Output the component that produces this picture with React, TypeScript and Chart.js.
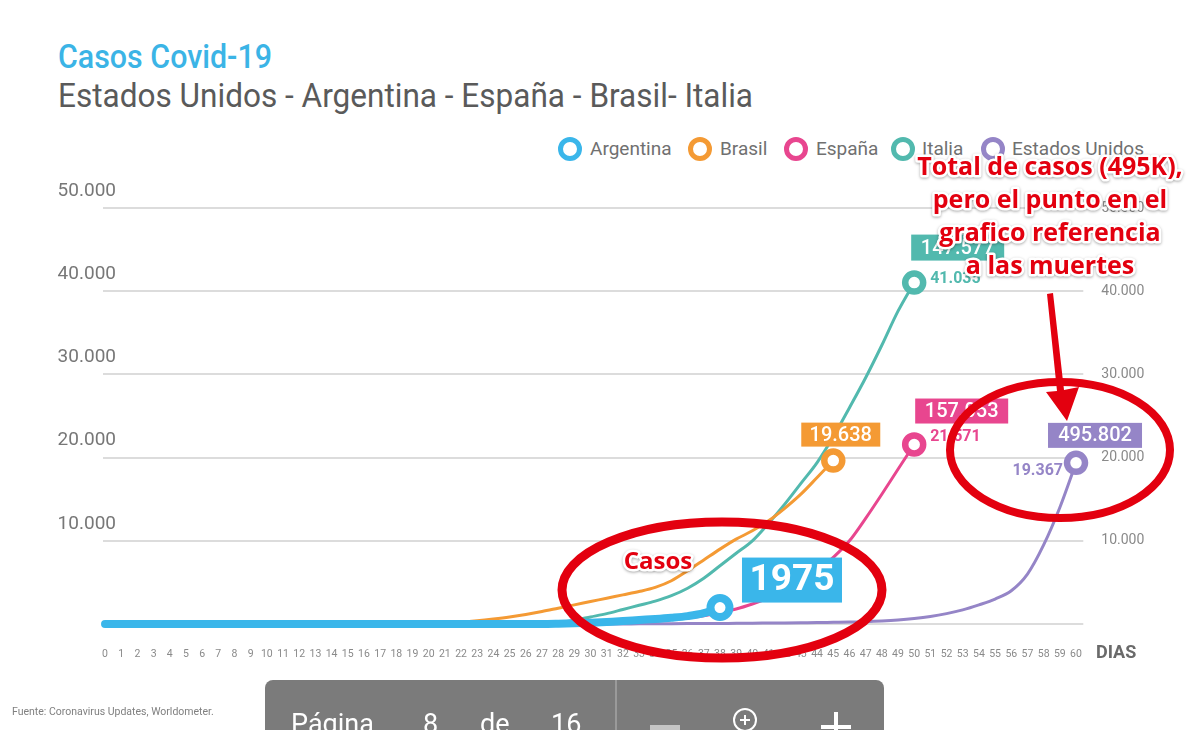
import React, { useEffect, useLayoutEffect, useRef } from 'react';
import { Chart, registerables } from 'chart.js';

Chart.register(...registerables);

// ---- data -------------------------------------------------------------
const COUNTRIES = ['Argentina', 'Brasil', 'España', 'Italia', 'Estados Unidos'];
const COLORS = ['#3ab6ea', '#f49a34', '#e8468f', '#52b9ae', '#9585c7'];

// cumulative cases by day (index = day)
const argentina = [
  0, 0, 0, 0, 0, 0, 0, 0, 0, 0,
  0, 0, 0, 0, 0, 0, 0, 0, 0, 0,
  0, 0, 0, 0, 0, 0, 0, 0, 30, 80,
  150, 250, 350, 480, 600, 750, 950, 1300, 1975,
];
const brasil = [
  0, 0, 0, 0, 0, 0, 0, 0, 0, 0,
  0, 0, 0, 0, 0, 0, 0, 0, 0, 0,
  0, 60, 200, 380, 600, 850, 1150, 1500, 1900, 2300,
  2700, 3100, 3500, 3900, 4400, 5200, 6400, 7700, 9000, 10200,
  11200, 12400, 13900, 15600, 17600, 19638,
];
const espana = [
  0, 0, 0, 0, 0, 0, 0, 0, 0, 0,
  0, 0, 0, 0, 0, 0, 0, 0, 0, 0,
  0, 0, 0, 0, 0, 0, 0, 0, 0, 0,
  0, 80, 170, 280, 400, 550, 750, 1000, 1350, 1800,
  2400, 3100, 3900, 4900, 6300, 8000, 10000, 12700, 15600, 18600,
  21571,
];
const italia = [
  0, 0, 0, 0, 0, 0, 0, 0, 0, 0,
  0, 0, 0, 0, 0, 0, 0, 0, 0, 0,
  0, 0, 0, 0, 0, 0, 0, 0, 150, 450,
  850, 1250, 1750, 2250, 2750, 3400, 4300, 5500, 7000, 8500,
  10000, 12100, 14400, 16900, 19400, 22500, 26000, 29600, 33500, 37600,
  41035,
];
const eeuu = [
  0, 0, 0, 0, 0, 0, 0, 0, 0, 0,
  0, 0, 0, 0, 0, 0, 0, 0, 0, 0,
  0, 0, 0, 0, 0, 0, 0, 0, 0, 0,
  0, 0, 10, 20, 30, 40, 50, 60, 70, 80,
  100, 110, 130, 150, 170, 200, 230, 270, 350, 470,
  650, 900, 1250, 1700, 2300, 3000, 4000, 6000, 9500, 14000,
  19367,
];
const SERIES = [argentina, brasil, espana, italia, eeuu];

// total cases shown in the tag boxes of España, Italia and Estados Unidos
const totalEspana = 157053;
const totalItalia = 147577;
const totalEeuu = 495802;

const Y_TICKS = [0, 10000, 20000, 30000, 40000, 50000];
const DAY_MIN = 0;
const DAY_MAX = 60;

// ---- helpers ------------------------------------------------------------
const fmt = (v: number) => String(Math.round(v)).replace(/\B(?=(\d{3})+(?!\d))/g, '.');
const last = (a: number[]) => a[a.length - 1];

const BOX_TEXT = [
  String(last(argentina)),
  fmt(last(brasil)),
  fmt(totalEspana),
  fmt(totalItalia),
  fmt(totalEeuu),
];
const VALUE_TEXT = ['', '', fmt(last(espana)), fmt(last(italia)), fmt(last(eeuu))];

// tag box placement relative to the end point of each line
const BOX_LAYOUT = [
  { dx: 22, dy: -50, w: 100, h: 45, font: 'bold 37px Roboto' },
  { dx: -32, dy: -38, w: 79, h: 24, font: '500 20px Roboto' },
  { dx: 1, dy: -46, w: 93, h: 25, font: '500 20px Roboto' },
  { dx: -3, dy: -48, w: 93, h: 26, font: '500 20px Roboto' },
  { dx: -28, dy: -40, w: 94, h: 25, font: '500 20px Roboto' },
];
const VALUE_LAYOUT = [
  null,
  null,
  { dx: 16, dy: -8, align: 'left' as CanvasTextAlign },
  { dx: 16, dy: -4, align: 'left' as CanvasTextAlign },
  { dx: -13, dy: 8, align: 'right' as CanvasTextAlign },
];

const NOTE_LINES = ['Total de casos (495K),', 'pero el punto en el', 'grafico referencia', 'a las muertes'];
const RED = '#e3000f';

function haloText(ctx: CanvasRenderingContext2D, text: string, x: number, y: number) {
  ctx.save();
  ctx.lineJoin = 'round';
  ctx.strokeStyle = '#ffffff';
  ctx.lineWidth = 5;
  ctx.shadowColor = 'rgba(0,0,0,0.35)';
  ctx.shadowBlur = 3;
  ctx.shadowOffsetY = 1;
  ctx.strokeText(text, x, y);
  ctx.restore();
  ctx.fillStyle = RED;
  ctx.fillText(text, x, y);
}

const tagsPlugin = {
  id: 'tags',
  afterDatasetsDraw(chart: any) {
    const { ctx } = chart;
    const xs = chart.scales.x;
    const ys = chart.scales.y;
    ctx.save();
    SERIES.forEach((s, i) => {
      const d = s.length - 1;
      const px = xs.getPixelForValue(d);
      const py = ys.getPixelForValue(s[d]);
      const b = BOX_LAYOUT[i];
      ctx.fillStyle = COLORS[i];
      ctx.fillRect(px + b.dx, py + b.dy, b.w, b.h);
      ctx.fillStyle = '#ffffff';
      ctx.font = b.font;
      ctx.textAlign = 'center';
      ctx.textBaseline = 'middle';
      ctx.fillText(BOX_TEXT[i], px + b.dx + b.w / 2, py + b.dy + b.h / 2 + 1);
      const v = VALUE_LAYOUT[i];
      if (v) {
        ctx.fillStyle = COLORS[i];
        ctx.font = 'bold 16px Roboto';
        ctx.textAlign = v.align;
        ctx.fillText(VALUE_TEXT[i], px + v.dx, py + v.dy);
      }
    });
    ctx.restore();
  },
  afterDraw(chart: any) {
    const { ctx } = chart;
    ctx.save();
    // hand-drawn highlight ellipses
    ctx.strokeStyle = RED;
    ctx.lineWidth = 9;
    ctx.beginPath();
    ctx.ellipse(722, 590, 160, 68, 0, 0, Math.PI * 2);
    ctx.stroke();
    ctx.lineWidth = 8;
    ctx.beginPath();
    ctx.ellipse(1060, 450, 110, 68, 0, 0, Math.PI * 2);
    ctx.stroke();
    // arrow
    ctx.fillStyle = RED;
    ctx.beginPath();
    ctx.moveTo(1047, 294);
    ctx.lineTo(1053, 293);
    ctx.lineTo(1064, 390);
    ctx.lineTo(1079, 387);
    ctx.lineTo(1067, 421);
    ctx.lineTo(1046, 392);
    ctx.lineTo(1057, 391);
    ctx.closePath();
    ctx.fill();
    // notes
    ctx.font = 'bold 25px "Open Sans"';
    ctx.textAlign = 'center';
    ctx.textBaseline = 'middle';
    NOTE_LINES.forEach((t, i) => haloText(ctx, t, 1050, 168 + i * 33));
    ctx.font = 'bold 24px "Open Sans"';
    haloText(ctx, 'Casos', 658, 562);
    ctx.restore();
  },
};

// ---- components -------------------------------------------------------
function FitText({ text, width, style }: { text: string; width: number; style: React.CSSProperties }) {
  const ref = useRef<HTMLSpanElement>(null);
  useLayoutEffect(() => {
    const el = ref.current;
    if (!el) return;
    el.style.transform = 'none';
    const w = el.getBoundingClientRect().width;
    if (w > 0) el.style.transform = `scaleX(${width / w})`;
  }, [text, width]);
  return (
    <span
      ref={ref}
      style={{ ...style, display: 'inline-block', whiteSpace: 'nowrap', transformOrigin: '0 0' }}
    >
      {text}
    </span>
  );
}

const LEGEND_POS = [
  { ring: 570, text: 590 },
  { ring: 700, text: 720 },
  { ring: 796, text: 816 },
  { ring: 903, text: 922 },
  { ring: 993, text: 1012 },
];

export default function App() {
  const canvasRef = useRef<HTMLCanvasElement>(null);

  useEffect(() => {
    const canvas = canvasRef.current;
    if (!canvas) return;
    const chart = new Chart(canvas, {
      type: 'line',
      data: {
        datasets: SERIES.map((s, i) => ({
          label: COUNTRIES[i],
          data: s.map((v, d) => ({ x: d, y: v })),
          borderColor: COLORS[i],
          borderWidth: i === 0 ? 8 : 3,
          borderCapStyle: 'round' as const,
          borderJoinStyle: 'round' as const,
          cubicInterpolationMode: 'monotone' as const,
          pointRadius: (c: any) => (c.dataIndex === s.length - 1 ? (i === 0 ? 9.5 : 9) : 0),
          pointBorderWidth: i === 0 ? 8 : 6.5,
          pointBackgroundColor: '#ffffff',
          pointBorderColor: COLORS[i],
          pointHoverRadius: 0,
          clip: 30,
          fill: false,
        })),
      },
      options: {
        responsive: false,
        animation: false,
        events: [],
        layout: { padding: { top: 208, left: 0, right: 0, bottom: 0 } },
        plugins: { legend: { display: false }, tooltip: { enabled: false } },
        scales: {
          x: {
            type: 'linear',
            min: -0.15,
            max: 60.45,
            grid: { display: false },
            border: { display: false },
            afterFit: (s: any) => { s.height = 106; },
            ticks: {
              stepSize: 1,
              includeBounds: false,
              autoSkip: false,
              maxRotation: 0,
              padding: 16,
              color: '#8a8a8a',
              font: { family: 'Roboto', size: 10.5 },
              callback: (v: any) => (Number.isInteger(v) && v >= DAY_MIN && v <= DAY_MAX ? String(v) : ''),
            },
          },
          y: {
            position: 'left',
            min: Y_TICKS[0],
            max: Y_TICKS[Y_TICKS.length - 1],
            afterFit: (s: any) => { s.width = 102.6; },
            afterBuildTicks: (s: any) => { s.ticks = Y_TICKS.map((v) => ({ value: v })); },
            grid: { color: '#dcdcdc', lineWidth: 2, drawTicks: false },
            border: { display: false },
            ticks: {
              mirror: true,
              crossAlign: 'near',
              padding: -45,
              labelOffset: -17,
              color: '#777777',
              font: { family: 'Roboto', size: 19 },
              callback: (v: any) => (v === 0 ? '' : fmt(v)),
            },
          },
          y2: {
            position: 'right',
            min: Y_TICKS[0],
            max: Y_TICKS[Y_TICKS.length - 1],
            afterFit: (s: any) => { s.width = 116.7; },
            afterBuildTicks: (s: any) => { s.ticks = Y_TICKS.map((v) => ({ value: v })); },
            grid: { display: false },
            border: { display: false },
            ticks: {
              padding: 10,
              color: '#8a8a8a',
              font: { family: 'Roboto', size: 14 },
              callback: (v: any) => (v === 0 ? '' : fmt(v)),
            },
          },
        },
      } as any,
      plugins: [tagsPlugin],
    });
    let alive = true;
    Promise.all([
      document.fonts.load('bold 25px "Open Sans"'),
      document.fonts.load('19px Roboto'),
      document.fonts.load('bold 19px Roboto'),
    ]).then(() => { if (alive) chart.update(); }, () => {});
    return () => {
      alive = false;
      chart.destroy();
    };
  }, []);

  return (
    <div
      style={{
        position: 'fixed',
        left: 0,
        top: 0,
        width: 1200,
        height: 730,
        overflow: 'hidden',
        background: '#ffffff',
        fontFamily: 'Roboto, sans-serif',
      }}
    >
      <div style={{ position: 'absolute', left: 58, top: 40, lineHeight: 1 }}>
        <FitText text="Casos Covid-19" width={214} style={{ fontSize: 33, fontWeight: 500, color: '#3bb4e6' }} />
      </div>
      <div style={{ position: 'absolute', left: 58, top: 79, lineHeight: 1 }}>
        <FitText
          text="Estados Unidos - Argentina - España - Brasil- Italia"
          width={695}
          style={{ fontSize: 33, fontWeight: 400, color: '#5a5a5a' }}
        />
      </div>

      {COUNTRIES.map((c, i) => (
        <React.Fragment key={c}>
          <div
            style={{
              position: 'absolute',
              left: LEGEND_POS[i].ring - 12,
              top: 149 - 12,
              width: 24,
              height: 24,
              boxSizing: 'border-box',
              borderRadius: '50%',
              border: `5.5px solid ${COLORS[i]}`,
            }}
          />
          <div
            style={{
              position: 'absolute',
              left: LEGEND_POS[i].text,
              top: 149 - 11,
              fontSize: 19,
              lineHeight: '22px',
              color: '#707070',
              whiteSpace: 'nowrap',
            }}
          >
            {c}
          </div>
        </React.Fragment>
      ))}

      <canvas ref={canvasRef} width={1200} height={730} style={{ position: 'absolute', left: 0, top: 0 }} />

      <div
        style={{
          position: 'absolute',
          left: 1096,
          top: 641,
          fontSize: 18,
          fontWeight: 700,
          lineHeight: '22px',
          color: '#6a6a6a',
        }}
      >
        DIAS
      </div>

      <div
        style={{
          position: 'absolute',
          left: 12,
          top: 705,
          fontSize: 10.5,
          lineHeight: '14px',
          color: '#808080',
          whiteSpace: 'nowrap',
        }}
      >
        Fuente: Coronavirus Updates, Worldometer.
      </div>

      <div
        style={{
          position: 'absolute',
          left: 265,
          top: 680,
          width: 619,
          height: 80,
          background: '#7b7b7b',
          borderRadius: 8,
          color: '#ffffff',
          fontSize: 27,
          lineHeight: '27px',
        }}
      >
        <div style={{ position: 'absolute', left: 350, top: 0, width: 1.5, height: 80, background: '#9a9a9a' }} />
        <span style={{ position: 'absolute', left: 26, top: 31 }}>Página</span>
        <span style={{ position: 'absolute', left: 158, top: 31 }}>8</span>
        <span style={{ position: 'absolute', left: 215, top: 31 }}>de</span>
        <span style={{ position: 'absolute', left: 286, top: 31 }}>16</span>
        <div style={{ position: 'absolute', left: 385, top: 45, width: 30, height: 6, background: '#c4c4c4' }} />
        <div
          style={{
            position: 'absolute',
            left: 468,
            top: 28,
            width: 24,
            height: 24,
            boxSizing: 'border-box',
            borderRadius: '50%',
            border: '2.5px solid #ffffff',
          }}
        />
        <div style={{ position: 'absolute', left: 475, top: 38.5, width: 10, height: 2.5, background: '#ffffff' }} />
        <div style={{ position: 'absolute', left: 478.75, top: 35, width: 2.5, height: 10, background: '#ffffff' }} />
        <div style={{ position: 'absolute', left: 556, top: 45, width: 30, height: 4, background: '#ffffff' }} />
        <div style={{ position: 'absolute', left: 569, top: 32, width: 4, height: 30, background: '#ffffff' }} />
      </div>
    </div>
  );
}
